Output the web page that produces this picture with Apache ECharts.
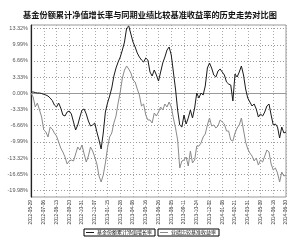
<!DOCTYPE html>
<html><head><meta charset="utf-8">
<script src="https://cdn.jsdelivr.net/npm/echarts@6/dist/echarts.min.js"></script>
<style>html,body{margin:0;padding:0;background:#fff}#c{width:300px;height:240px}</style>
</head><body><div id="c"></div>
<script>
const titleText = '基金份额累计净值增长率与同期业绩比较基准收益率的历史走势对比图';
const seriesNames = ['基金份额累计净值增长率', '业绩比较基准收益率'];
const dateLabels = ['2012-05-29','2012-07-06','2012-08-13','2012-09-20','2012-10-31','2012-12-07','2013-01-15','2013-02-28','2013-04-08','2013-05-16','2013-06-26','2013-08-05','2013-09-11','2013-10-24','2013-12-02','2014-01-08','2014-02-21','2014-03-31','2014-05-09','2014-06-18','2014-06-30'];
const yTicks = [-19.98,-16.65,-13.32,-9.99,-6.66,-3.33,0,3.33,6.66,9.99,13.32];
const fundNav = [0.27,0.27,0.16,0.06,0.06,-0.04,-0.21,-0.35,-0.56,-0.97,-1.48,-2.41,-2.82,-2.00,-3.03,-4.47,-4.67,-3.85,-3.64,-4.26,-5.91,-7.55,-6.52,-4.88,-3.44,-3.23,-4.26,-5.70,-6.73,-6.52,-6.11,-7.96,-9.61,-11.46,-8.17,-3.85,-2.00,-0.56,1.09,3.56,5.21,6.44,7.47,8.91,10.56,13.44,13.85,12.20,10.56,9.53,8.29,7.47,6.85,6.44,7.27,6.85,4.38,3.56,4.80,3.77,2.53,4.38,6.24,7.47,8.91,9.53,7.88,4.38,0.88,-3.44,-6.52,-6.94,-4.47,-6.32,-5.08,-3.44,-5.08,-3.03,0.06,-0.97,0.06,-0.35,1.50,5.21,6.24,5.21,3.77,3.35,4.59,5.00,4.38,3.77,2.33,1.91,1.71,-1.58,3.97,3.35,4.38,5.62,3.77,0.88,-0.97,-1.79,-2.61,-2.20,-3.23,-4.88,-4.26,-4.67,-3.85,-2.61,-2.20,-4.47,-6.52,-6.32,-6.94,-9.20,-6.94,-8.17,-7.96];
const benchmark = [0.06,-0.76,-2.82,-2.00,-3.44,-4.88,-7.55,-7.96,-8.99,-6.94,-7.35,-8.17,-8.79,-10.02,-11.26,-12.08,-13.11,-14.55,-13.93,-13.73,-13.93,-12.49,-11.05,-11.67,-10.64,-12.49,-14.14,-12.90,-11.05,-11.87,-13.11,-14.55,-17.02,-18.25,-16.81,-14.34,-11.26,-8.99,-8.17,-6.11,-4.67,-2.00,0.27,3.15,4.80,5.62,5.00,4.18,2.74,2.33,0.88,-0.35,-2.61,-2.20,-4.47,-5.49,-5.49,-6.11,-4.05,-4.67,-3.85,-2.82,-3.44,-2.20,-2.82,-1.79,-2.82,-5.08,-7.14,-9.61,-15.37,-13.93,-13.73,-13.11,-14.96,-11.87,-14.34,-13.73,-10.85,-10.85,-10.23,-8.99,-8.38,-6.52,-5.08,-6.73,-6.52,-7.14,-6.73,-5.49,-5.91,-6.32,-7.76,-7.76,-9.61,-9.82,-8.17,-7.14,-6.52,-5.08,-7.55,-10.02,-11.46,-12.29,-12.90,-13.93,-13.31,-14.76,-13.73,-14.14,-12.90,-11.67,-12.08,-14.55,-15.78,-15.37,-16.40,-18.25,-16.20,-17.02,-16.81];

const perLabel = (fundNav.length - 1) / (dateLabels.length - 1);
const chart = echarts.init(document.getElementById('c'), null, {renderer: 'canvas'});
const F = 'SimSun, "Noto Sans CJK SC", sans-serif';
const legendBase = {top: 229, padding: [1,3,1,2], itemGap: 2, itemWidth: 8, itemHeight: 1, icon: 'rect',
  borderColor: '#000', borderWidth: 1, textStyle: {fontFamily: F, fontSize: 5, color: '#111', padding: [0,0,0,-2]}};
chart.setOption({
  animation: false,
  backgroundColor: '#fff',
  title: {text: titleText, left: 'center', top: 6, textStyle: {fontFamily: F, fontSize: 8.2, fontWeight: 'bold', color: '#111'}},
  legend: [
    Object.assign({data: [seriesNames[0]], left: 84}, legendBase),
    Object.assign({data: [seriesNames[1]], left: 158}, legendBase)
  ],
  grid: [
    {left: 31, right: 14, top: 25, bottom: 43, show: true, borderColor: '#999', borderWidth: 1},
    {left: 31, right: 14, top: 28.6, bottom: 49.6}
  ],
  xAxis: [
    {type: 'value', gridIndex: 0, min: 0, max: fundNav.length - 1, interval: perLabel,
     axisLine: {show: true, lineStyle: {color: '#999'}}, axisTick: {show: false},
     splitLine: {show: true, lineStyle: {color: '#aaa', type: [1,2], width: 1}},
     axisLabel: {rotate: 90, fontSize: 4.8, color: '#333', fontFamily: 'Liberation Sans, sans-serif', margin: 3,
       formatter: v => dateLabels[Math.round(v / perLabel)] || ''}},
    {type: 'value', gridIndex: 1, min: 0, max: 1, show: false}
  ],
  yAxis: [
    {type: 'value', gridIndex: 0, min: -21.34, max: 14.06, axisLabel: {show: false}, axisTick: {show: false},
     axisLine: {show: true, lineStyle: {color: '#222', width: 1.2}}, splitLine: {show: false}},
    {type: 'value', gridIndex: 1, min: yTicks[0], max: yTicks[yTicks.length - 1], interval: 3.33,
     axisLine: {show: false}, axisTick: {show: false},
     splitLine: {show: true, lineStyle: {color: '#999', type: [1,2], width: 1}},
     axisLabel: {fontSize: 5.5, color: '#555', fontFamily: 'Liberation Sans, sans-serif', margin: 3,
       formatter: v => (Math.abs(v) < 1e-6 ? 0 : v).toFixed(2) + '%'}}
  ],
  series: [
    {name: seriesNames[0], type: 'line', xAxisIndex: 0, yAxisIndex: 0, showSymbol: false, symbol: 'none',
     data: fundNav.map((v, i) => [i, v]), lineStyle: {color: '#1a1a1a', width: 1}, itemStyle: {color: '#1a1a1a'}},
    {name: seriesNames[1], type: 'line', xAxisIndex: 0, yAxisIndex: 0, showSymbol: false, symbol: 'none',
     data: benchmark.map((v, i) => [i, v]), lineStyle: {color: '#8a8a8a', width: 1}, itemStyle: {color: '#8a8a8a'}}
  ]
});
</script></body></html>
